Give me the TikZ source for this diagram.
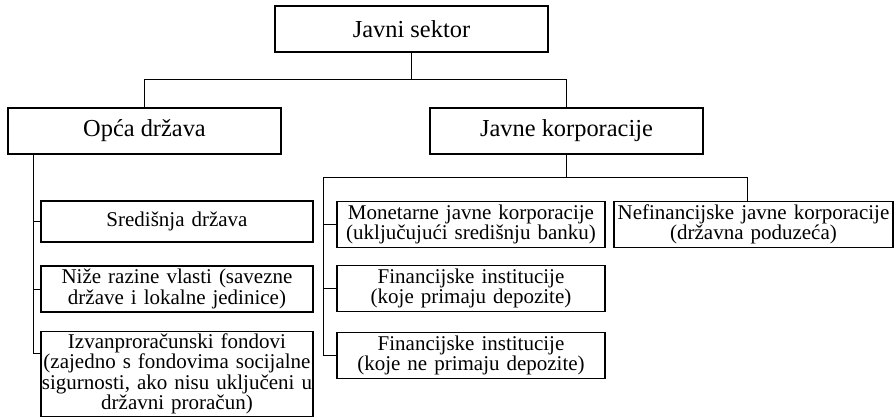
\documentclass[tikz,border=0pt]{standalone}
\usepackage{fontspec}
\setmainfont{Liberation Serif}
\newcommand{\bigtxt}{\fontsize{12.2}{14}\selectfont}
\newcommand{\smalltxt}{\fontsize{10.5}{10.2}\selectfont}
\begin{document}
\begin{tikzpicture}[x=0.5pt,y=-0.5pt,
  box/.style={draw,line width=0.7pt,inner sep=1pt,align=center},
  topbox/.style={box,font=\bigtxt,minimum width=136.5pt,minimum height=23pt},
  subbox/.style={box,font=\smalltxt,text width=134pt,minimum height=23pt},
  link/.style={line width=0.4pt}]

\useasboundingbox (0,0) rectangle (894,417);

\node[topbox](sektor) at (411.5,29){Javni sektor};
\node[topbox](opca)[below of=sektor,node distance=51pt,xshift=-133.5pt]{Opća država};
\node[topbox](korp)[right of=opca,node distance=211pt]{Javne korporacije};
\node[subbox,minimum height=20.5pt](sred)[below of=opca,node distance=45.25pt,xshift=16.25pt]{Središnja država};
\node[subbox](nize)[below of=sred,node distance=33.75pt]{Niže razine vlasti (savezne\\države i lokalne jedinice)};
\node[subbox,inner xsep=0pt,text width=136pt,minimum height=42pt](izvan)[below of=nize,node distance=42.5pt]{Izvanproračunski fondovi\\(zajedno s fondovima socijalne\\sigurnosti, ako nisu uključeni u\\državni proračun)};
\node[subbox,text width=132pt](mon)[below of=korp,node distance=46.75pt,xshift=-47.75pt]{Monetarne javne korporacije\\(uključujući središnju banku)};
\node[subbox,text width=132pt](fin1)[below of=mon,node distance=32pt]{Financijske institucije\\(koje primaju depozite)};
\node[subbox,text width=132pt](fin2)[below of=fin1,node distance=33.5pt]{Financijske institucije\\(koje ne primaju depozite)};
\node[subbox,text width=137.5pt,line width=0.6pt](nef)[right of=mon,node distance=141.25pt]{Nefinancijske javne korporacije\\(državna poduzeća)};

% sektor
\draw[link](sektor.south)--++(0,-13.5pt)coordinate(j0);
\draw[link](opca.north)|-(j0)-|(korp.north);

% opca drzava
\path([xshift=13pt]opca.south west)coordinate(g0);
\draw[link](g0)|-(sred.west);
\draw[link](g0)|-(nize.west);
\draw[link](g0)|-([yshift=10.5pt]izvan.west);

% javne korporacije
\draw[link](korp.south)--++(0,-11.5pt)coordinate(j1);
\path([xshift=-6.5pt]mon.west)coordinate(m0);
\draw[link]([xshift=-3pt]nef.north)|-(j1)-|(m0)--(mon.west);
\draw[link](m0)|-(fin1.west);
\draw[link](m0)|-(fin2.west);

\end{tikzpicture}
\end{document}
